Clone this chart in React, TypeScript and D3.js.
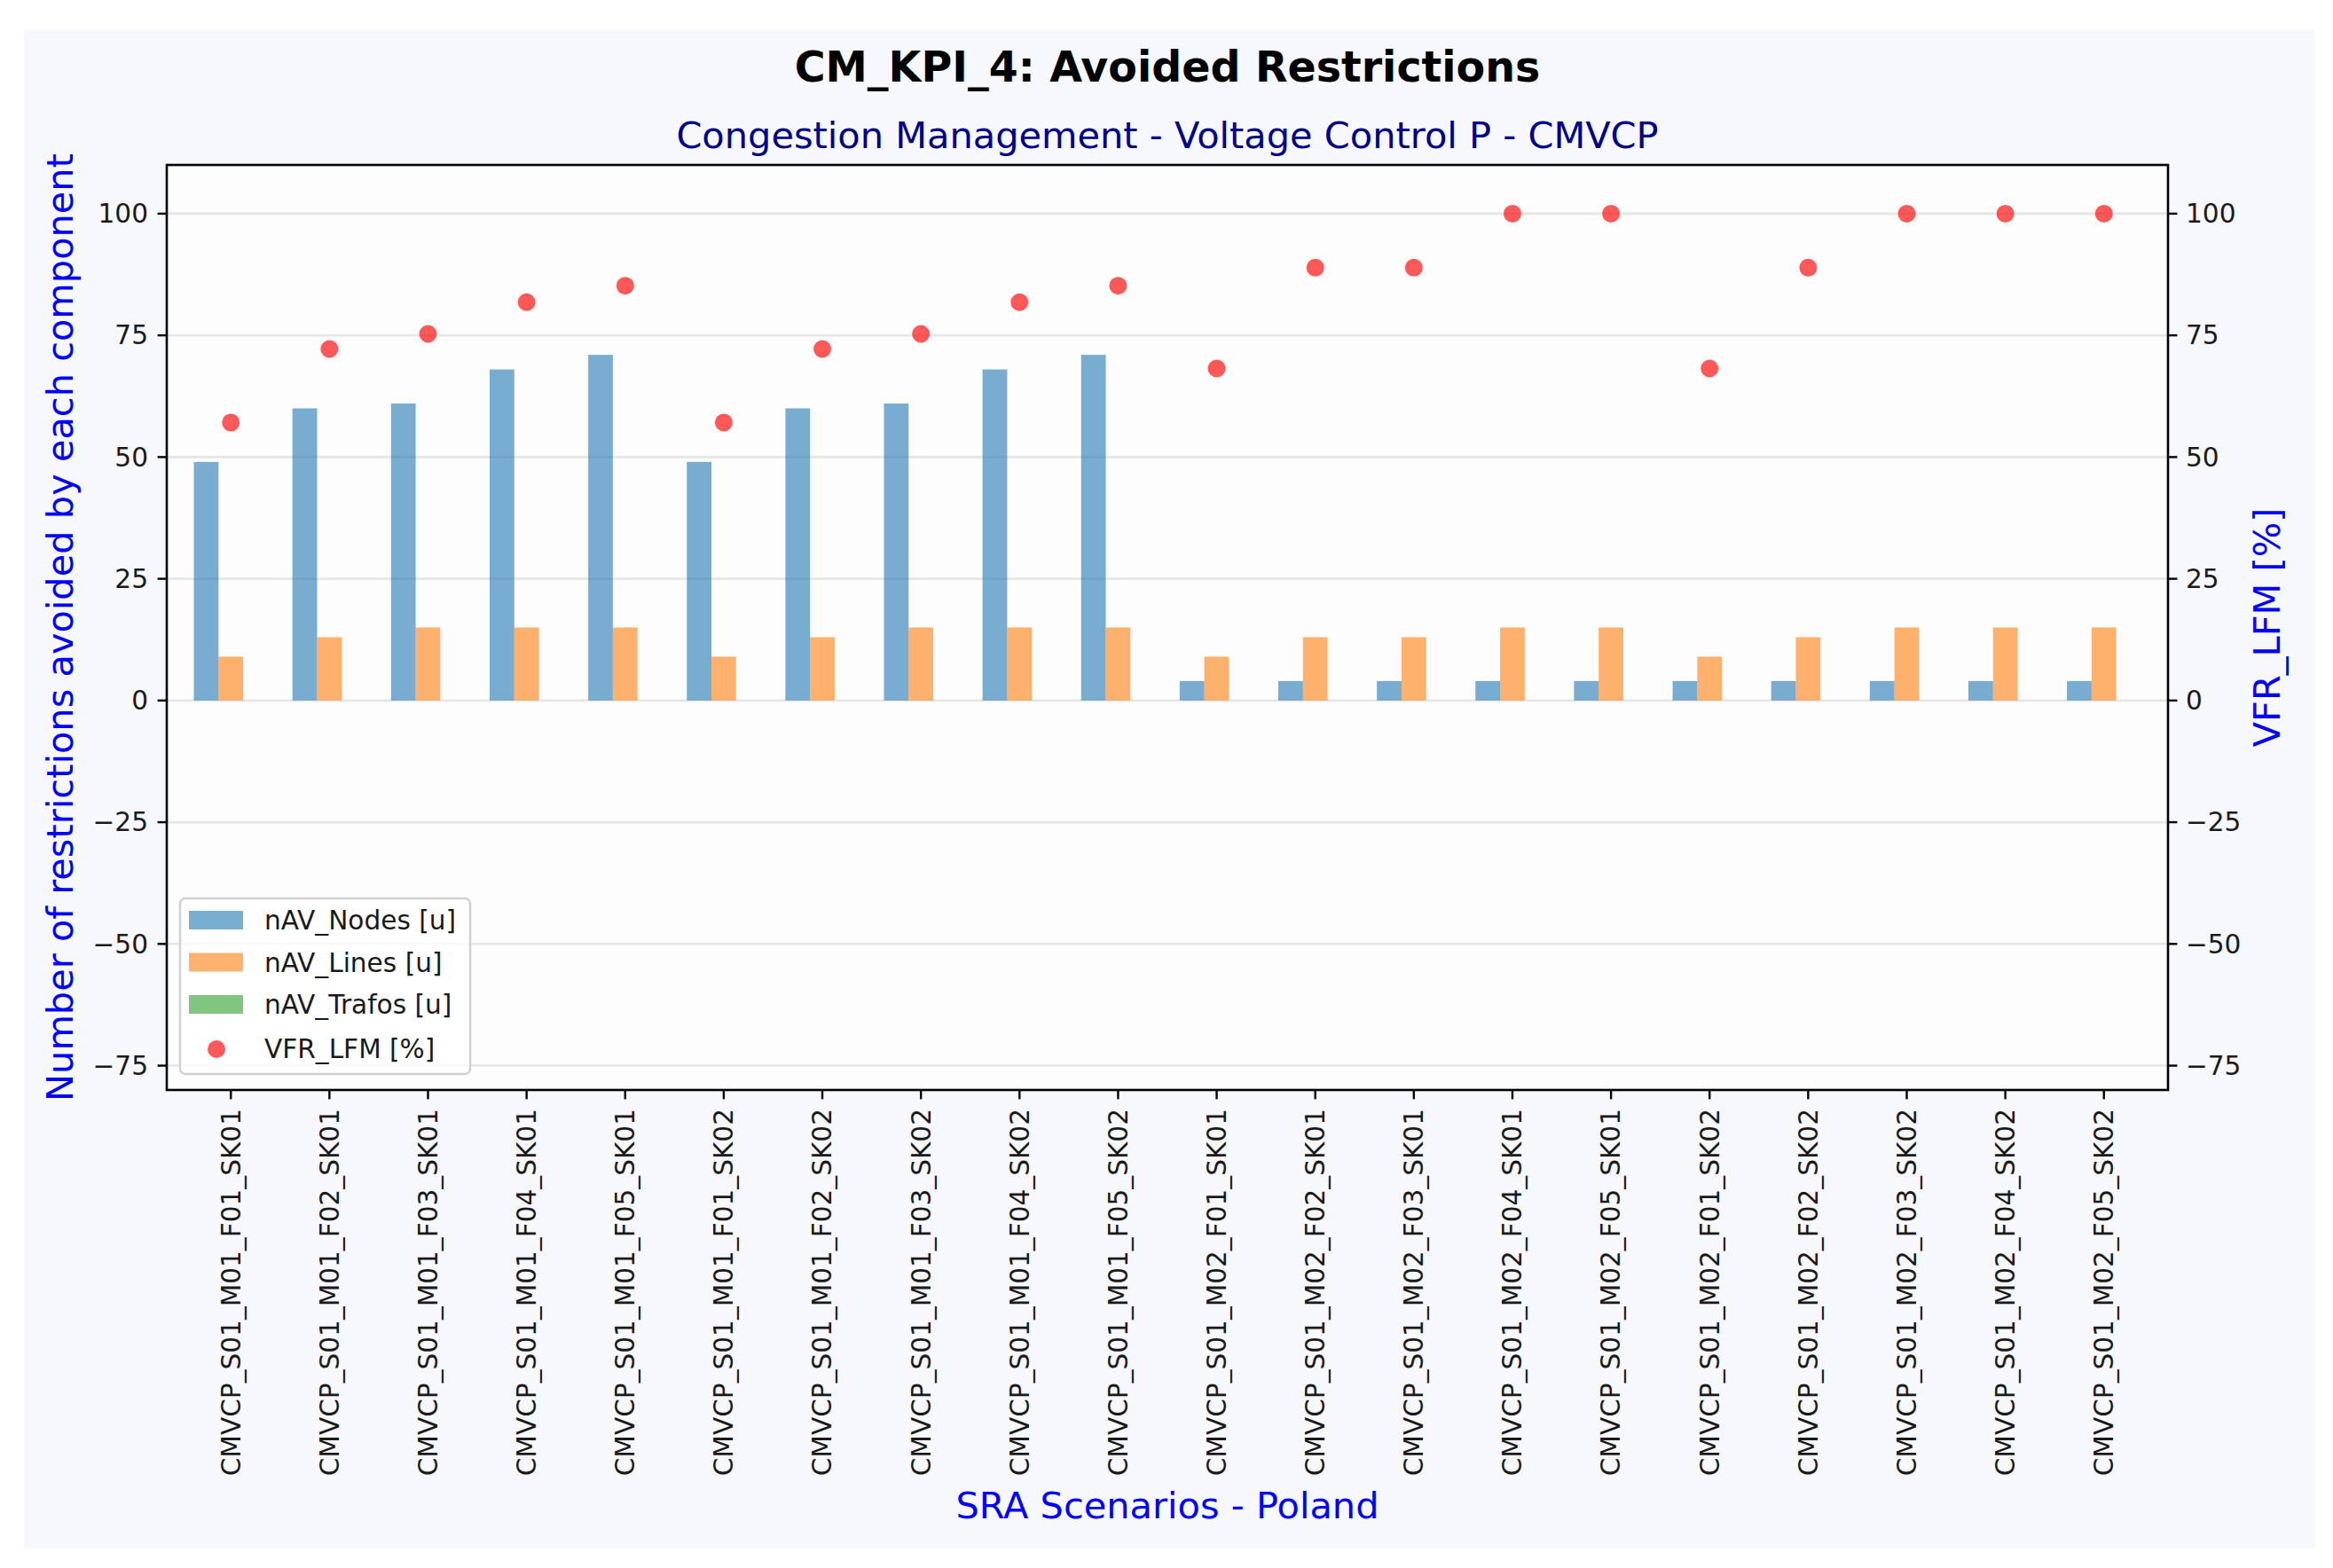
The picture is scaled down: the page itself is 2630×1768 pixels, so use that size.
import * as d3 from 'd3';

const scenarios = [
  'CMVCP_S01_M01_F01_SK01', 'CMVCP_S01_M01_F02_SK01', 'CMVCP_S01_M01_F03_SK01', 'CMVCP_S01_M01_F04_SK01', 'CMVCP_S01_M01_F05_SK01',
  'CMVCP_S01_M01_F01_SK02', 'CMVCP_S01_M01_F02_SK02', 'CMVCP_S01_M01_F03_SK02', 'CMVCP_S01_M01_F04_SK02', 'CMVCP_S01_M01_F05_SK02',
  'CMVCP_S01_M02_F01_SK01', 'CMVCP_S01_M02_F02_SK01', 'CMVCP_S01_M02_F03_SK01', 'CMVCP_S01_M02_F04_SK01', 'CMVCP_S01_M02_F05_SK01',
  'CMVCP_S01_M02_F01_SK02', 'CMVCP_S01_M02_F02_SK02', 'CMVCP_S01_M02_F03_SK02', 'CMVCP_S01_M02_F04_SK02', 'CMVCP_S01_M02_F05_SK02'
];
const nodes = [49, 60, 61, 68, 71, 49, 60, 61, 68, 71, 4, 4, 4, 4, 4, 4, 4, 4, 4, 4];
const lines = [9, 13, 15, 15, 15, 9, 13, 15, 15, 15, 9, 13, 13, 15, 15, 9, 13, 15, 15, 15];
const trafos = [0, 0, 0, 0, 0, 0, 0, 0, 0, 0, 0, 0, 0, 0, 0, 0, 0, 0, 0, 0];
const vfr = [57.1, 72.2, 75.3, 81.8, 85.2, 57.1, 72.2, 75.3, 81.8, 85.2, 68.2, 88.9, 88.9, 100, 100, 68.2, 88.9, 100, 100, 100];
const yTicks = [-75, -50, -25, 0, 25, 50, 75, 100];

const series = [
  { name: 'nAV_Nodes [u]', values: nodes, color: '#1f77b4', offset: -0.25 },
  { name: 'nAV_Lines [u]', values: lines, color: '#ff7f0e', offset: 0 },
  { name: 'nAV_Trafos [u]', values: trafos, color: '#2ca02c', offset: 0.25 }
];

const W = 2630;
const H = 1768;
const left = 188;
const right = 2444;
const top = 186;
const bottom = 1229;
const font = 'DejaVu Sans, sans-serif';

export default function App() {
  const x = d3.scaleLinear().domain([-0.65, scenarios.length - 1 + 0.65]).range([left, right]);
  const y = d3.scaleLinear().domain([-80, 110]).range([bottom, top]);
  const y2 = d3.scaleLinear().domain([-80, 110]).range([bottom, top]);
  const bw = x(0.25) - x(0);
  const midX = (left + right) / 2;
  const midY = (top + bottom) / 2;

  return (
    <svg width={W} height={H} style={{ position: 'absolute', left: 0, top: 0, display: 'block' }} fontFamily={font}>
      <rect x={0} y={0} width={W} height={H} fill="#ffffff" />
      <rect x={27} y={33} width={2583} height={1713} fill="#f7f8fd" />
      <rect x={left} y={top} width={right - left} height={bottom - top} fill="#fdfdfd" />

      {yTicks.map((t) => (
        <line key={'g' + t} x1={left} x2={right} y1={y(t)} y2={y(t)} stroke="#e6e6e6" strokeWidth={2.6} />
      ))}

      {series.map((s) =>
        s.values.map((v, i) => (
          <rect
            key={s.name + i}
            x={x(i + s.offset) - bw / 2}
            y={Math.min(y(v), y(0))}
            width={bw}
            height={Math.abs(y(0) - y(v))}
            fill={s.color}
            fillOpacity={0.6}
          />
        ))
      )}

      {vfr.map((v, i) => (
        <circle key={'d' + i} cx={x(i)} cy={y2(v)} r={10} fill="#ff0000" fillOpacity={0.65} />
      ))}

      <rect x={left} y={top} width={right - left} height={bottom - top} fill="none" stroke="#000" strokeWidth={2.6} />

      {yTicks.map((t) => (
        <g key={'yl' + t}>
          <line x1={left - 10.4} x2={left} y1={y(t)} y2={y(t)} stroke="#000" strokeWidth={2.4} />
          <text x={left - 21} y={y(t)} dy="0.35em" textAnchor="end" fontSize={29.6} fill="#1a1a1a">
            {t < 0 ? '\u2212' + Math.abs(t) : t}
          </text>
          <line x1={right} x2={right + 10.4} y1={y2(t)} y2={y2(t)} stroke="#000" strokeWidth={2.4} />
          <text x={right + 20} y={y2(t)} dy="0.35em" textAnchor="start" fontSize={29.6} fill="#1a1a1a">
            {t < 0 ? '\u2212' + Math.abs(t) : t}
          </text>
        </g>
      ))}

      {scenarios.map((s, i) => (
        <g key={s}>
          <line x1={x(i)} x2={x(i)} y1={bottom} y2={bottom + 10.4} stroke="#000" strokeWidth={2.4} />
          <text
            transform={`translate(${x(i)},${bottom + 21}) rotate(-90)`}
            dy="0.35em"
            textAnchor="end"
            fontSize={29.6}
            fill="#1a1a1a"
          >
            {s}
          </text>
        </g>
      ))}

      <text x={midX} y={92} textAnchor="middle" fontSize={47.5} fontWeight="bold" fill="#000">
        CM_KPI_4: Avoided Restrictions
      </text>
      <text x={midX} y={167} textAnchor="middle" fontSize={41.5} fill="#00008b">
        Congestion Management - Voltage Control P - CMVCP
      </text>
      <text x={midX} y={1712} textAnchor="middle" fontSize={41.5} fill="#0000ff">
        SRA Scenarios - Poland
      </text>
      <text transform={`translate(82,${midY}) rotate(-90)`} textAnchor="middle" fontSize={41.5} fill="#0000ff">
        Number of restrictions avoided by each component
      </text>
      <text transform={`translate(2570,${midY}) rotate(-90)`} textAnchor="middle" fontSize={41.5} fill="#0000ff">
        VFR_LFM [%]
      </text>

      <g>
        <rect x={203} y={1013} width={327} height={198} rx={6} fill="#ffffff" fillOpacity={0.8} stroke="#d0d0d0" strokeWidth={2.4} />
        {series.map((s, k) => (
          <g key={'lg' + k}>
            <rect x={213} y={1027 + k * 47.5} width={61} height={21} fill={s.color} fillOpacity={0.6} />
            <text x={298} y={1048 + k * 47.5} fontSize={29.6} fill="#1a1a1a">
              {s.name}
            </text>
          </g>
        ))}
        <circle cx={244} cy={1183} r={10} fill="#ff0000" fillOpacity={0.65} />
        <text x={298} y={1193} fontSize={29.6} fill="#1a1a1a">
          VFR_LFM [%]
        </text>
      </g>
    </svg>
  );
}
